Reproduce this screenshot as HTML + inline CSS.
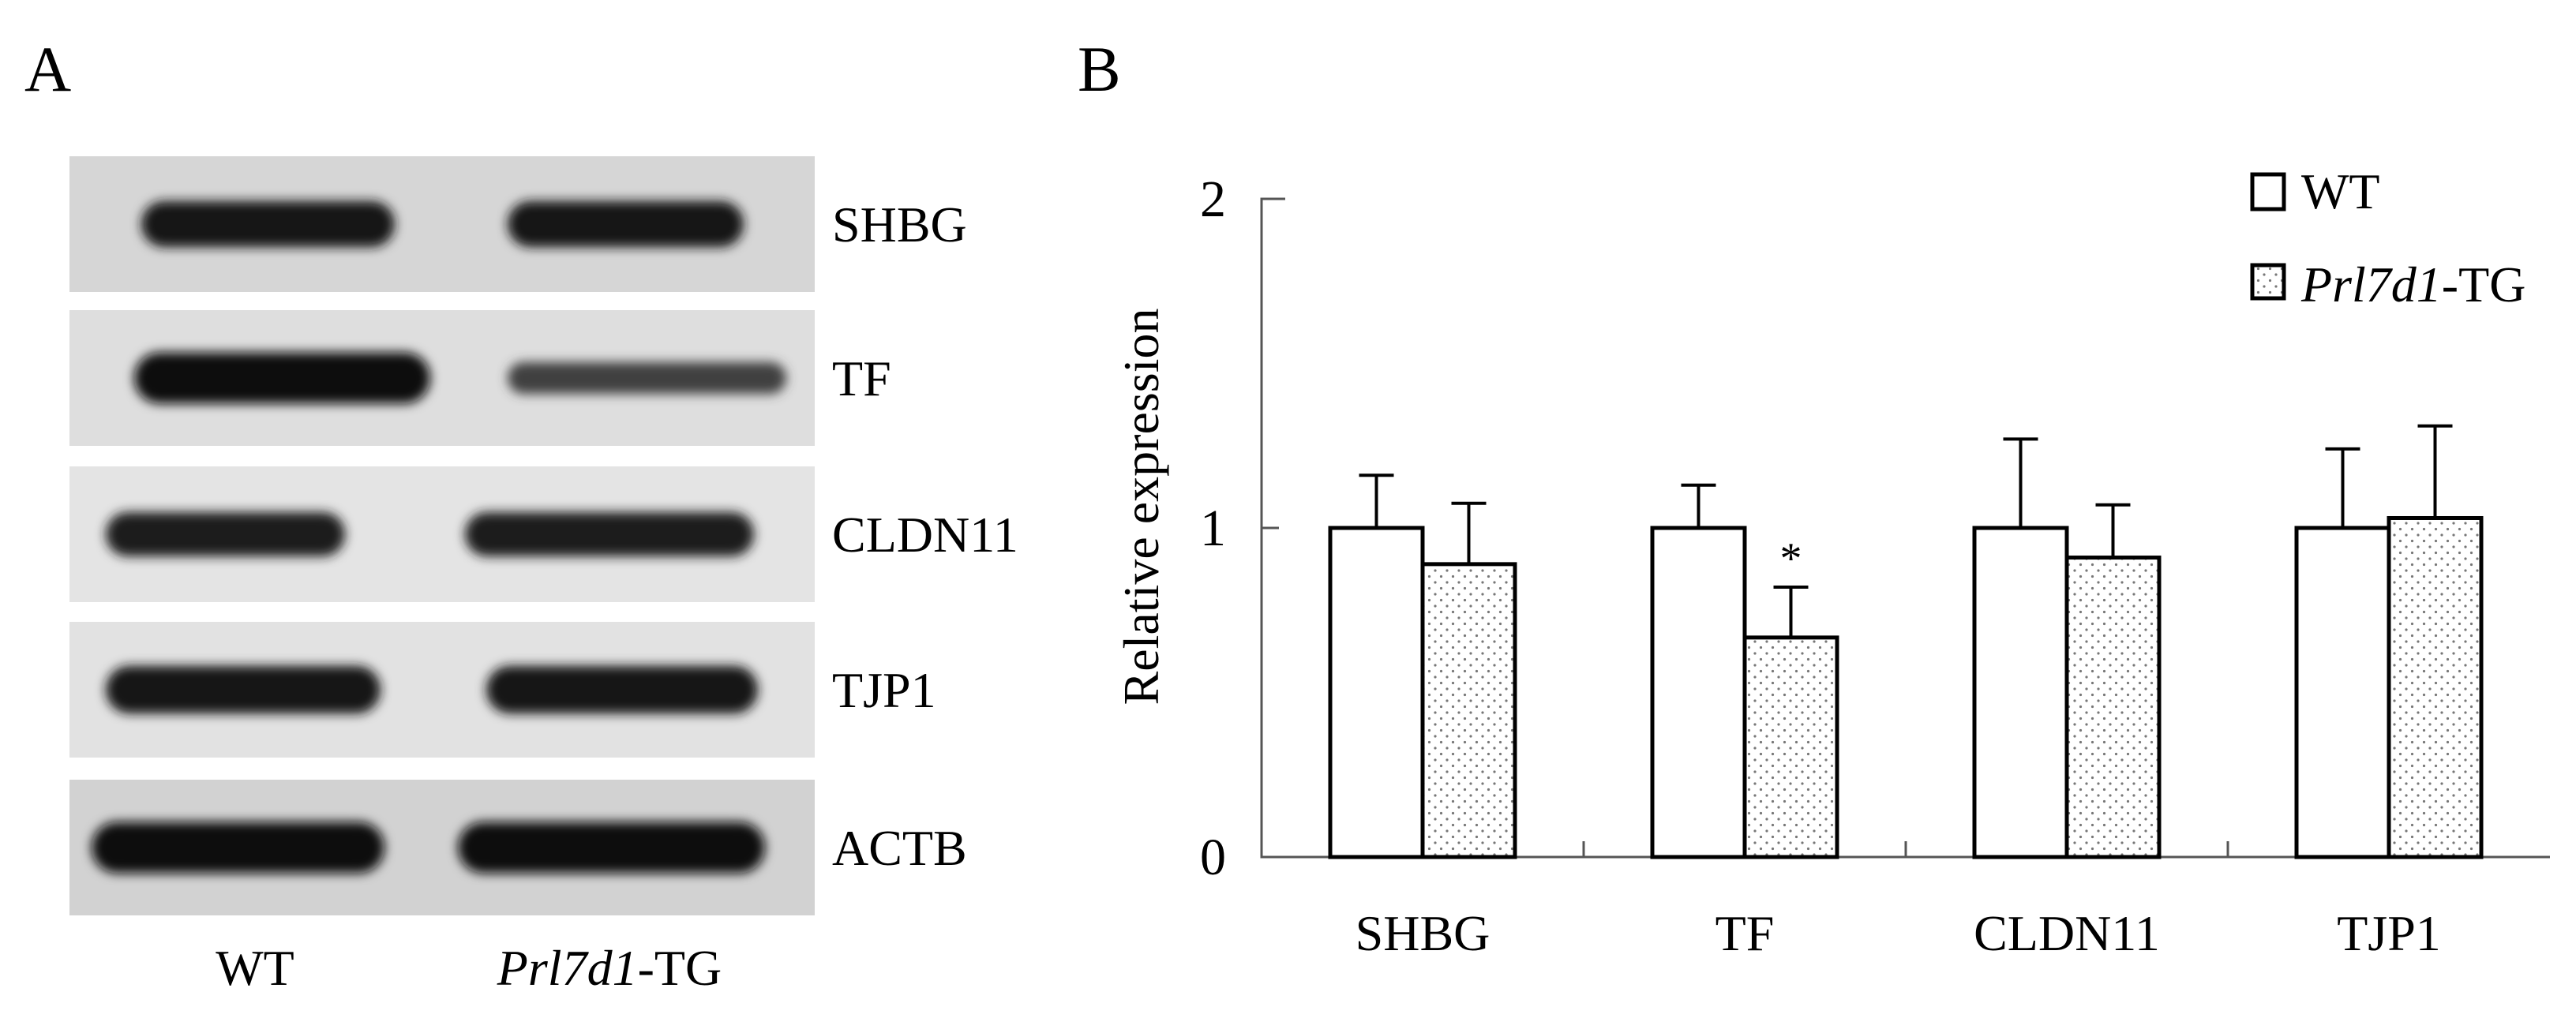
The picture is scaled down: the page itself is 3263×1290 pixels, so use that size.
<!DOCTYPE html>
<html><head><meta charset="utf-8"><style>
html,body{margin:0;padding:0;background:#fff;}
svg{display:block;}
text{font-family:"Liberation Serif",serif;fill:#000;}
</style></head><body>
<svg id="fig" width="3263" height="1290" viewBox="0 0 3263 1290" xmlns="http://www.w3.org/2000/svg">
<defs>
<pattern id="dots" width="15" height="15" patternUnits="userSpaceOnUse">
<rect width="15" height="15" fill="#fff"/>
<circle cx="3" cy="3" r="1.6" fill="#777"/>
<circle cx="10.5" cy="10.5" r="1.6" fill="#777"/>
</pattern>
<filter id="blur" x="-20%" y="-60%" width="140%" height="220%"><feGaussianBlur stdDeviation="7"/></filter>
</defs>
<text x="31" y="115" font-size="82">A</text>
<text x="1365" y="115" font-size="82">B</text>
<g id="blots"></g>
<text x="323" y="1248" font-size="64" text-anchor="middle">WT</text>
<text x="772" y="1248" font-size="64" text-anchor="middle"><tspan font-style="italic">Prl7d1</tspan>-TG</text>
<g id="chart"></g>
<text transform="translate(1467,642) rotate(-90)" font-size="64" text-anchor="middle">Relative expression</text>
<rect x="2853" y="221" width="40" height="44" fill="#fff" stroke="#000" stroke-width="5"/>
<text x="2915" y="264" font-size="64">WT</text>
<rect x="2853" y="336" width="40" height="42" fill="url(#dots)" stroke="#000" stroke-width="5"/>
<text x="2915" y="382" font-size="64"><tspan font-style="italic">Prl7d1</tspan>-TG</text>
</svg>
<script>
const categories = ["SHBG", "TF", "CLDN11", "TJP1"];
const wtValues = [1.0, 1.0, 1.0, 1.0];
const wtErrors = [0.16, 0.13, 0.27, 0.24];
const tgValues = [0.89, 0.667, 0.91, 1.03];
const tgErrors = [0.185, 0.153, 0.16, 0.28];
const significant = [false, true, false, false];
const yTicks = [0, 1, 2];

const blotNames = ["SHBG", "TF", "CLDN11", "TJP1", "ACTB"];
const blotWT = [0.85, 1.0, 0.8, 0.9, 1.0];
const blotTG = [0.85, 0.45, 0.8, 0.9, 1.0];

const NS = "http://www.w3.org/2000/svg";
function mk(tag, attrs, parent){const e=document.createElementNS(NS,tag);for(const k in attrs)e.setAttribute(k,attrs[k]);parent.appendChild(e);return e;}

// blots
const blots = document.getElementById('blots');
const blotTops=[198,393,591,788,988], blotBg=["#d6d6d6","#dedede","#e4e4e4","#e2e2e2","#d2d2d2"];
const wtLane=[[179,500],[170,545],[134,437],[134,482],[116,487]];
const tgLane=[[643,942],[643,996],[589,955],[616,960],[580,969]];
blotNames.forEach((n,i)=>{
  const top=blotTops[i];
  const bg=mk('rect',{x:88,y:top,width:944,height:172,fill:blotBg[i]},blots);
  
  
  const cy=top+86+(i==0?0:0);
  [[wtLane[i],blotWT[i],'wt'],[tgLane[i],blotTG[i],'tg']].forEach(([l,v,g])=>{
    const h=20+v*45;
    const c=Math.round(110-v*100);
    const b=mk('rect',{x:l[0],y:cy-h/2,width:l[1]-l[0],height:h,rx:h/2,fill:`rgb(${c},${c},${c})`,filter:'url(#blur)'},blots);
    
    
  });
  const t=mk('text',{x:1054,y:cy+22,'font-size':64},blots);
  t.textContent=n;
  
  
});

// chart
const chart=document.getElementById('chart');
const x0=1598, catW=408, y0=1086, unit=417, barW=117;
const yPos=v=>y0-v*unit;
const ax=mk('path',{d:`M${x0+30} ${yPos(2)} H${x0} V${y0} H${x0+catW*categories.length}`,fill:'none',stroke:'#555','stroke-width':3},chart);


yTicks.forEach(t=>{
  const l=mk('line',{x1:x0,x2:x0+22,y1:yPos(t),y2:yPos(t),stroke:'#555','stroke-width':3},chart);
  
  
  const tx=mk('text',{x:x0-45,y:yPos(t)+22,'font-size':66,'text-anchor':'end'},chart);
  tx.textContent=t;
  
  
});
categories.forEach((c,i)=>{
  if(i>0){const l=mk('line',{x1:x0+catW*i,x2:x0+catW*i,y1:y0,y2:y0-20,stroke:'#555','stroke-width':3},chart);
  
  }
  const cx=x0+catW*(i+0.5);
  const series=[[wtValues[i],wtErrors[i],cx-barW,'#fff','wt'],[tgValues[i],tgErrors[i],cx,'url(#dots)','tg']];
  series.forEach(([v,e,bx,f,g])=>{
    const ex=bx+barW/2;
    const el=mk('line',{x1:ex,x2:ex,y1:yPos(v),y2:yPos(v+e),stroke:'#000','stroke-width':4},chart);
    
    
    const cp=mk('line',{x1:ex-22,x2:ex+22,y1:yPos(v+e),y2:yPos(v+e),stroke:'#000','stroke-width':4},chart);
    
    
    const r=mk('rect',{x:bx,y:yPos(v),width:barW,height:y0-yPos(v),fill:f,stroke:'#000','stroke-width':5},chart);
    
    
  });
  if(significant[i]){
    const s=mk('text',{x:cx+barW/2,y:yPos(tgValues[i]+tgErrors[i])-18,'font-size':56,'text-anchor':'middle'},chart);
    s.textContent='*';
    
    
  }
  const lb=mk('text',{x:cx,y:y0+118,'font-size':64,'text-anchor':'middle'},chart);
  lb.textContent=c;
  
  
});
</script>
</body></html>
